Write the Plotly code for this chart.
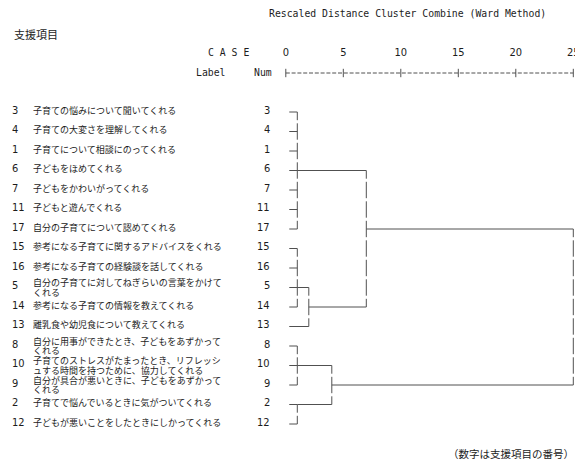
import plotly.graph_objects as go

# ---- data -------------------------------------------------------------
ITEM_ORDER = [3, 4, 1, 6, 7, 11, 17, 15, 16, 5, 14, 13, 8, 10, 9, 2, 12]
ITEM_LABELS = [
    "子育ての悩みについて聞いてくれる",
    "子育ての大変さを理解してくれる",
    "子育てについて相談にのってくれる",
    "子どもをほめてくれる",
    "子どもをかわいがってくれる",
    "子どもと遊んでくれる",
    "自分の子育てについて認めてくれる",
    "参考になる子育てに関するアドバイスをくれる",
    "参考になる子育ての経験談を話してくれる",
    "自分の子育てに対してねぎらいの言葉をかけて<br>くれる",
    "参考になる子育ての情報を教えてくれる",
    "離乳食や幼児食について教えてくれる",
    "自分に用事ができたとき、子どもをあずかって<br>くれる",
    "子育てのストレスがたまったとき、リフレッシ<br>ュする時間を持つために、協力してくれる",
    "自分が具合が悪いときに、子どもをあずかって<br>くれる",
    "子育てで悩んでいるときに気がついてくれる",
    "子どもが悪いことをしたときにしかってくれる",
]
AXIS_TICKS = [0, 5, 10, 15, 20, 25]

# Ward agglomeration (rescaled distances):
# cluster name, members (items or earlier clusters), distance, item whose row carries the branch
MERGES = [
    ("A", [3, 4, 1, 6, 7, 11, 17], 1, 6),
    ("B", [15, 16, 5, 14], 1, 5),
    ("B2", ["B", 13], 2, 14),
    ("AB", ["A", "B2"], 7, 17),
    ("C", [8, 10, 9], 1, 10),
    ("D", [2, 12], 1, 2),
    ("CD", ["C", "D"], 4, 9),
    ("ALL", ["AB", "CD"], 25, None),
]

# ---- page geometry ----------------------------------------------------
W, H = 575, 471
X0_PX, X_PX_PER_UNIT = 285.8, 11.5     # where distance 0 sits, pixels per unit
Y0_PX, Y_PX_PER_ROW = 112.0, 19.5      # first case row, row pitch
LEAF_GAP = 0.3                         # leaf stubs start just right of 0
ROW_GAP = 0.08                         # break in vertical bars between text rows
RULE_Y_PX = 73.0
TICK_Y_PX = 53.0

LINE_COLOR = "#505050"
TEXT_COLOR = "#1c1c1c"
NUM_FONT = "Liberation Sans Narrow, DejaVu Sans Condensed, Liberation Sans, sans-serif"
MONO_FONT = "DejaVu Sans Mono, Liberation Mono, monospace"
JP_FONT = "Noto Sans CJK JP, sans-serif"


def row_from_px(py_):
    return (py_ - Y0_PX) / Y_PX_PER_ROW


def px(x):
    return x / W


def py(y):
    return 1 - y / H


def add_vertical(xs, ys, x, r_top, r_bot):
    # character-style bar: one piece per text row with a small break between rows
    r = r_top
    while r < r_bot:
        a = r if r == r_top else r - 0.5 + ROW_GAP
        b = min(r + 0.5 - ROW_GAP, r_bot)
        xs += [x, x, None]
        ys += [a, b, None]
        r += 1
    last = r_bot - 0.5 + ROW_GAP
    xs += [x, x, None]
    ys += [last, r_bot, None]


# ---- dendrogram segments ---------------------------------------------
row_of = {item: i for i, item in enumerate(ITEM_ORDER)}
node_row, node_dist = {}, {}
xs, ys = [], []
for name, members, dist, carrier in MERGES:
    rows = []
    for m in members:
        if isinstance(m, str):
            r, start = node_row[m], node_dist[m]
        else:
            r, start = row_of[m], LEAF_GAP
        xs += [start, dist, None]
        ys += [r, r, None]
        rows.append(r)
    add_vertical(xs, ys, dist, min(rows), max(rows))
    node_row[name] = row_of[carrier] if carrier is not None else None
    node_dist[name] = dist

fig = go.Figure()
fig.add_trace(go.Scatter(
    x=xs, y=ys, mode="lines",
    line=dict(color=LINE_COLOR, width=1),
    hoverinfo="skip", showlegend=False,
))

# distance ruler "+---------+" under the scale numbers
rule_row = row_from_px(RULE_Y_PX)
fig.add_trace(go.Scatter(
    x=AXIS_TICKS, y=[rule_row] * len(AXIS_TICKS), mode="lines+markers",
    line=dict(color=LINE_COLOR, width=1, dash="4px,1.8px"),
    marker=dict(symbol="line-ns", size=6, line=dict(color=LINE_COLOR, width=1)),
    hoverinfo="skip", showlegend=False, cliponaxis=False,
))

# scale numbers
fig.add_trace(go.Scatter(
    x=AXIS_TICKS, y=[row_from_px(TICK_Y_PX)] * len(AXIS_TICKS), mode="text",
    text=[str(t) for t in AXIS_TICKS], textposition="middle center",
    textfont=dict(family=NUM_FONT, size=11, color=TEXT_COLOR),
    hoverinfo="skip", showlegend=False, cliponaxis=False,
))

# ---- text -------------------------------------------------------------
ann = []
for i, (item, label) in enumerate(zip(ITEM_ORDER, ITEM_LABELS)):
    ann.append(dict(x=px(10), y=i, xref="paper", yref="y", text=str(item),
                    xanchor="left", yanchor="middle", yshift=2, showarrow=False,
                    font=dict(family=NUM_FONT, size=11, color=TEXT_COLOR)))
    ann.append(dict(x=px(272), y=i, xref="paper", yref="y", text=str(item),
                    xanchor="right", yanchor="middle", yshift=2, showarrow=False,
                    font=dict(family=NUM_FONT, size=11, color=TEXT_COLOR)))
    lines = label.split("<br>")
    shifts = [2] if len(lines) == 1 else [5.0, -4.5]
    for line, sh in zip(lines, shifts):
        ann.append(dict(x=px(32), y=i, xref="paper", yref="y", text=line,
                        xanchor="left", yanchor="middle", yshift=sh, showarrow=False,
                        height=9, borderpad=0, valign="middle",
                        font=dict(family=JP_FONT, size=9, color=TEXT_COLOR)))

header = [
    ("Rescaled Distance Cluster Combine (Ward Method)", 407, 14),
    ("C A S E", 228, 53),
    ("Label", 211, 73),
    ("Num", 263, 73),
]
for text, x, y in header:
    ann.append(dict(x=px(x), y=py(y), xref="paper", yref="paper", text=text,
                    xanchor="center", yanchor="middle", showarrow=False,
                    font=dict(family=MONO_FONT, size=9.8, color=TEXT_COLOR)))

ann.append(dict(x=px(12), y=py(34), xref="paper", yref="paper", text="支援項目",
                xanchor="left", yanchor="middle", showarrow=False,
                font=dict(family=JP_FONT, size=11, color=TEXT_COLOR)))
ann.append(dict(x=1, y=py(453), xref="paper", yref="paper",
                text="（数字は支援項目の番号）",
                xanchor="right", yanchor="middle", showarrow=False, borderpad=0,
                font=dict(family=JP_FONT, size=10.5, color=TEXT_COLOR)))

fig.update_layout(
    width=W, height=H,
    margin=dict(l=0, r=0, t=0, b=0),
    paper_bgcolor="white", plot_bgcolor="white",
    annotations=ann,
    xaxis=dict(
        range=[-X0_PX / X_PX_PER_UNIT, (W - X0_PX) / X_PX_PER_UNIT],
        visible=False, fixedrange=True,
    ),
    yaxis=dict(
        range=[row_from_px(H), row_from_px(0)],
        visible=False, fixedrange=True,
    ),
)

fig.write_html("out.html")
